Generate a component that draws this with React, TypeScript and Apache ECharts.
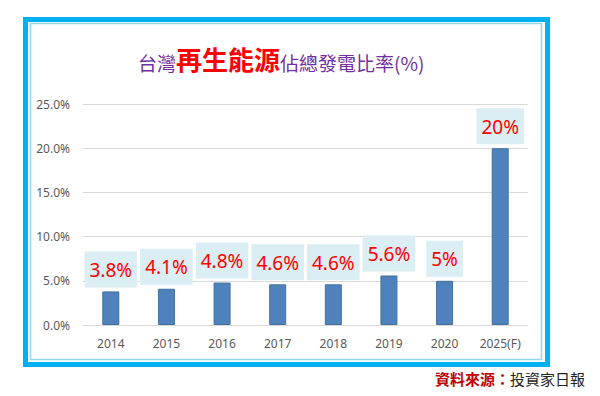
import React, { useEffect, useRef } from "react";
import * as echarts from "echarts";

const categories = ["2014", "2015", "2016", "2017", "2018", "2019", "2020", "2025(F)"];
const values = [3.8, 4.1, 4.8, 4.6, 4.6, 5.6, 5.0, 20.0];
const valueLabels = ["3.8%", "4.1%", "4.8%", "4.6%", "4.6%", "5.6%", "5%", "20%"];
const yTicks = { min: 0, max: 25, interval: 5 };

export default function App() {
  const ref = useRef<HTMLDivElement>(null);
  useEffect(() => {
    if (!ref.current) return;
    const chart = echarts.init(ref.current, null, { renderer: "svg" });
    const cjk = '"Noto Sans CJK TC", "Noto Sans", sans-serif';
    const latin = '"Noto Sans", "Open Sans", sans-serif';
    chart.setOption({
      animation: false,
      backgroundColor: "#ffffff",
      title: {
        text: "{a|台灣}{b|再生能源}{a|佔總發電比率(%)}",
        left: 138,
        top: 40,
        padding: 0,
        textStyle: {
          fontWeight: "normal",
          rich: {
            a: { fontSize: 19, color: "#7030a0", fontFamily: cjk, fontWeight: "normal", verticalAlign: "bottom", lineHeight: 32 },
            b: { fontSize: 26, color: "#ff0000", fontFamily: cjk, fontWeight: "bold", verticalAlign: "bottom", lineHeight: 32 },
          },
        },
      },
      grid: { left: 83, right: 72, top: 104, bottom: 71, containLabel: false },
      xAxis: {
        type: "category",
        data: categories,
        axisLine: { lineStyle: { color: "#d9d9d9", width: 1 } },
        axisTick: { show: false },
        axisLabel: { color: "#595959", fontSize: 12, fontFamily: latin, margin: 12 },
      },
      yAxis: {
        type: "value",
        min: yTicks.min,
        max: yTicks.max,
        interval: yTicks.interval,
        axisLine: { show: false },
        axisTick: { show: false },
        splitLine: { lineStyle: { color: "#d9d9d9", width: 1 } },
        axisLabel: {
          color: "#595959",
          fontSize: 12,
          fontFamily: latin,
          margin: 13,
          formatter: (v: number) => v.toFixed(1) + "%",
        },
      },
      series: [
        {
          type: "bar",
          data: values,
          barWidth: 17,
          itemStyle: { color: "#4f81bd", borderColor: "#41719c", borderWidth: 1 },
          label: {
            show: true,
            position: "top",
            distance: 4,
            formatter: (p: any) => valueLabels[p.dataIndex],
            color: "#ff0000",
            fontSize: 19,
            fontFamily: latin,
            backgroundColor: "#daeef3",
            padding: [9, 5, 8, 5],
          },
        },
      ],
      graphic: [
        {
          type: "rect",
          shape: { x: 25.5, y: 19.5, width: 522, height: 345 },
          style: { fill: "none", stroke: "#00b0f0", lineWidth: 5 },
          silent: true,
        },
        {
          type: "rect",
          shape: { x: 30.5, y: 23.5, width: 511, height: 336 },
          style: { fill: "none", stroke: "#8fd6f2", lineWidth: 1.5 },
          silent: true,
        },
        {
          type: "text",
          right: 15,
          top: 371,
          style: {
            text: "{r|資料來源：}{k|投資家日報}",
            rich: {
              r: { fontSize: 15, fill: "#c00000", fontWeight: "bold", fontFamily: cjk },
              k: { fontSize: 15, fill: "#222222", fontFamily: cjk },
            },
          },
        },
      ],
    });
    return () => chart.dispose();
  }, []);
  return (
    <div
      ref={ref}
      style={{ position: "fixed", left: 0, top: 0, width: 600, height: 396 }}
    />
  );
}
